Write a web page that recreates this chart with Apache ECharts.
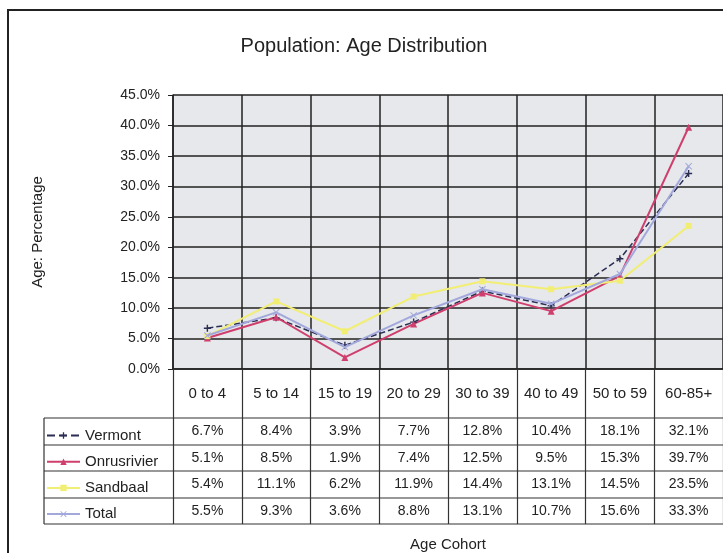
<!DOCTYPE html>
<html>
<head>
<meta charset="utf-8">
<script src="https://cdn.jsdelivr.net/npm/echarts@6/dist/echarts.min.js"></script>
<style>
html,body{margin:0;padding:0;background:#fff;}
#chart{width:723px;height:553px;}
</style>
</head>
<body>
<div id="chart"></div>
<script>
// ---- data ----
const categories = ['0 to 4', '5 to 14', '15 to 19', '20 to 29', '30 to 39', '40 to 49', '50 to 59', '60-85+'];
const seriesNames = ['Vermont', 'Onrusrivier', 'Sandbaal', 'Total'];
const vermont = [6.7, 8.4, 3.9, 7.7, 12.8, 10.4, 18.1, 32.1];
const onrusrivier = [5.1, 8.5, 1.9, 7.4, 12.5, 9.5, 15.3, 39.7];
const sandbaal = [5.4, 11.1, 6.2, 11.9, 14.4, 13.1, 14.5, 23.5];
const total = [5.5, 9.3, 3.6, 8.8, 13.1, 10.7, 15.6, 33.3];
const yMin = 0, yMax = 45, yStep = 5;

// ---- layout ----
const FONT = '"Liberation Sans", Arial, sans-serif';
const GRID_LEFT = 173, GRID_TOP = 95, GRID_W = 555, GRID_H = 274;
const AXIS_Y = GRID_TOP + GRID_H;           // 369
const TABLE_LEFT = 44;
const rowLines = [418, 445, 471, 498, 524];
const rows = [vermont, onrusrivier, sandbaal, total];
const colors = ['#2b2d52', '#cf3f6e', '#f2ee74', '#a2a8dc'];
const symbols = ['path://M4,0H6V4H10V6H6V10H4V6H0V4H4Z', 'triangle', 'rect', 'path://M1,0L5,4L9,0L10,1L6,5L10,9L9,10L5,6L1,10L0,9L4,5L0,1Z'];

const xAxes = [{
  type: 'category', gridIndex: 0, data: categories, position: 'bottom',
  axisLine: {show: true, lineStyle: {color: '#222', width: 1.5}},
  axisTick: {show: true, interval: 0, length: rowLines[rowLines.length - 1] - AXIS_Y, inside: false, lineStyle: {color: '#333', width: 1.2}},
  splitLine: {show: true, interval: 0, lineStyle: {color: '#222', width: 1.5}},
  axisLabel: {interval: 0, hideOverlap: false, margin: 17, fontSize: 15, color: '#222', fontFamily: FONT},
  name: 'Age Cohort', nameLocation: 'middle', nameGap: 168,
  nameTextStyle: {fontSize: 15, color: '#222', fontFamily: FONT}
}];
rows.forEach((arr, k) => {
  xAxes.push({
    type: 'category', gridIndex: 0, data: categories, position: 'bottom',
    offset: rowLines[k] - AXIS_Y,
    axisLine: {show: false}, axisTick: {show: false}, splitLine: {show: false},
    axisLabel: {interval: 0, hideOverlap: false, margin: 6, fontSize: 14, color: '#222', fontFamily: FONT,
      formatter: (v, i) => arr[i].toFixed(1) + '%'}
  });
});

const graphics = [
  {type: 'rect', shape: {x: 8, y: 10, width: 740, height: 560}, style: {fill: 'none', stroke: '#222', lineWidth: 2}, z: 0, silent: true}
];
rowLines.forEach(y => {
  graphics.push({type: 'line', shape: {x1: TABLE_LEFT, y1: y, x2: GRID_LEFT + GRID_W, y2: y}, style: {stroke: '#333', lineWidth: 1.2}, silent: true});
});
graphics.push({type: 'line', shape: {x1: TABLE_LEFT, y1: rowLines[0], x2: TABLE_LEFT, y2: rowLines[rowLines.length - 1]}, style: {stroke: '#333', lineWidth: 1.2}, silent: true});

const option = {
  animation: false,
  backgroundColor: '#ffffff',
  title: {
    text: 'Population: Age Distribution', left: 359, top: 31, textAlign: 'center',
    textStyle: {fontSize: 20, fontWeight: 'normal', color: '#222', fontFamily: FONT}
  },
  legend: {
    orient: 'vertical', left: 46, top: rowLines[0] + 10, padding: 0,
    itemWidth: 33, itemHeight: 8, itemGap: 11.2,
    data: seriesNames,
    textStyle: {fontSize: 15, color: '#222', fontFamily: FONT}
  },
  grid: {left: GRID_LEFT, top: GRID_TOP, width: GRID_W, height: GRID_H, show: true, backgroundColor: '#e6e8eb', borderWidth: 0},
  xAxis: xAxes,
  yAxis: {
    type: 'value', min: yMin, max: yMax, interval: yStep,
    axisLine: {show: true, lineStyle: {color: '#222', width: 1.5}},
    axisTick: {show: true, length: 5, lineStyle: {color: '#222'}},
    splitLine: {show: true, lineStyle: {color: '#222', width: 1.5}},
    axisLabel: {margin: 13, fontSize: 14, color: '#222', fontFamily: FONT, formatter: v => v.toFixed(1) + '%'},
    name: 'Age: Percentage', nameLocation: 'middle', nameGap: 128, nameRotate: 90,
    nameTextStyle: {fontSize: 15, color: '#222', fontFamily: FONT}
  },
  series: rows.map((arr, k) => ({
    name: seriesNames[k], type: 'line', data: arr, xAxisIndex: 0,
    symbol: symbols[k], symbolSize: k === 2 ? 6 : 7,
    lineStyle: {color: colors[k], width: k === 0 ? 1.5 : 2, type: k === 0 ? 'dashed' : 'solid'},
    itemStyle: {color: colors[k]},
    z: k === 3 ? 3 : 2
  })),
  graphic: graphics
};
const chart = echarts.init(document.getElementById('chart'), null, {renderer: 'canvas'});
chart.setOption(option);
</script>
</body>
</html>
